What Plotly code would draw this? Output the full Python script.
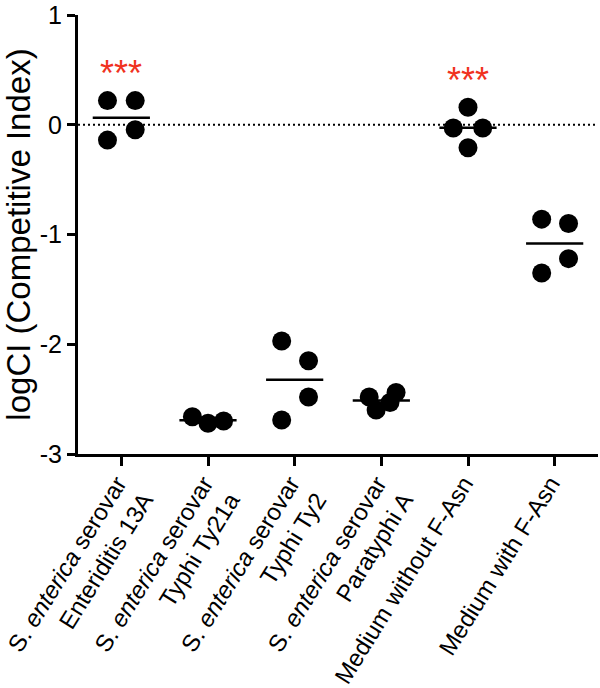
import plotly.graph_objects as go
import numpy as np

categories = [
    "S. <i>enterica</i> serovar<br>Enteriditis 13A",
    "S. <i>enterica</i> serovar<br>Typhi Ty21a",
    "S. <i>enterica</i> serovar<br>Typhi Ty2",
    "S. <i>enterica</i> serovar<br>Paratyphi A",
    "Medium without F-Asn",
    "Medium with F-Asn",
]
values = [
    [0.22, 0.22, -0.14, -0.045],
    [-2.66, -2.72, -2.70],
    [-1.97, -2.15, -2.48, -2.69],
    [-2.48, -2.44, -2.53, -2.60],
    [0.16, -0.03, -0.03, -0.21],
    [-0.86, -0.90, -1.22, -1.35],
]
jitter = [
    [-0.16, 0.16, -0.16, 0.16],
    [-0.18, 0.0, 0.18],
    [-0.15, 0.16, 0.16, -0.15],
    [-0.14, 0.17, 0.10, -0.06],
    [0.0, -0.17, 0.17, 0.0],
    [-0.15, 0.16, 0.16, -0.15],
]
significance = ["***", "", "", "", "***", ""]
star_y = [0.49, None, None, None, 0.43, None]

tick_vals = [1, 0, -1, -2, -3]
tick_text = ["1", "0", "-1", "-2", "-3"]

FONT = "Arial, Liberation Sans, Helvetica, sans-serif"
fig = go.Figure()

for i, (vals, jit) in enumerate(zip(values, jitter)):
    fig.add_trace(go.Scatter(
        x=[i + j for j in jit], y=vals, mode="markers",
        marker=dict(size=19, color="black"), showlegend=False, cliponaxis=False))
    m = float(np.mean(vals))
    fig.add_trace(go.Scatter(
        x=[i - 0.33, i + 0.33], y=[m, m], mode="lines",
        line=dict(color="black", width=2.5), showlegend=False, cliponaxis=False))

fig.add_shape(type="line", xref="paper", x0=0, x1=1, yref="y", y0=0, y1=0,
              line=dict(color="black", width=2, dash="2px,3px"), layer="below")

for i, (s, yy) in enumerate(zip(significance, star_y)):
    if s:
        fig.add_annotation(x=i, y=yy, text=s, showarrow=False, xanchor="center",
                           yanchor="middle", yshift=-3,
                           font=dict(size=36, color="#f0321e", family=FONT))

fig.update_layout(
    width=600, height=688,
    margin=dict(l=78, r=2, t=15, b=234, autoexpand=False),
    plot_bgcolor="white", paper_bgcolor="white",
    font=dict(family=FONT, color="black"),
    xaxis=dict(
        range=[-0.5, 5.5], tickmode="array", tickvals=list(range(len(categories))),
        ticktext=categories, tickangle=-58, showgrid=False, zeroline=False,
        showline=True, linecolor="black", linewidth=3, automargin=False,
        ticks="outside", ticklen=9, tickwidth=3, tickcolor="black",
        ticklabelstandoff=-6, ticklabelshift=-4, ticklabeloverflow="allow",
        tickfont=dict(size=24, family=FONT, color="black"),
    ),
    yaxis=dict(
        range=[-3, 1], tickmode="array", tickvals=tick_vals, ticktext=tick_text,
        showgrid=False, zeroline=False, showline=True, linecolor="black", linewidth=3,
        ticks="outside", ticklen=8, tickwidth=3, tickcolor="black", automargin=False,
        ticklabeloverflow="allow",
        tickfont=dict(size=25, family=FONT, color="black"),
        title=dict(text="logCI (Competitive Index)", font=dict(size=33, family=FONT, color="black")),
    ),
)

fig.write_html("out.html", config={"displayModeBar": False},
               post_script="document.body.style.margin='0';document.body.style.overflow='hidden';")
